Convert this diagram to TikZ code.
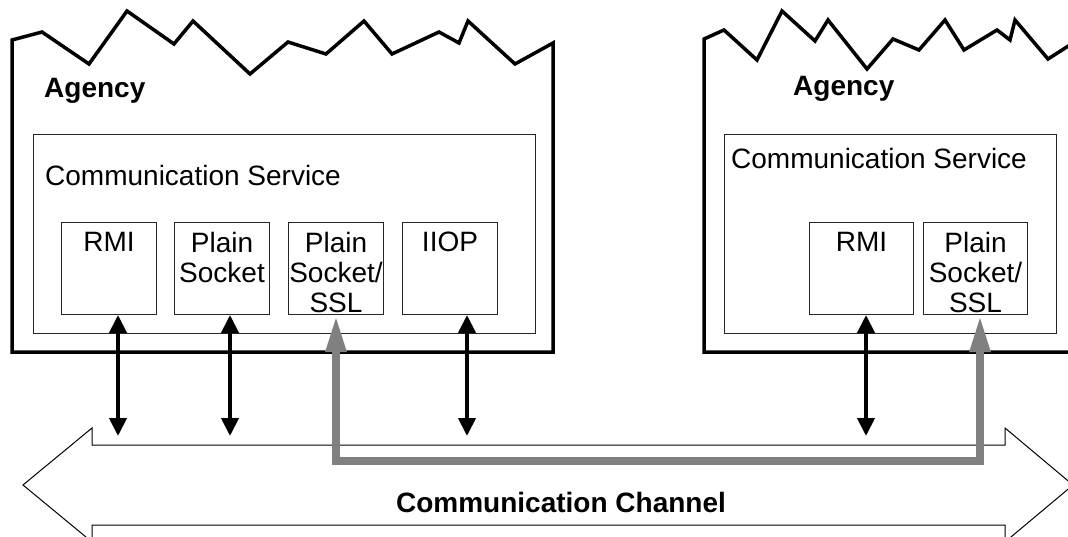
\documentclass[tikz,border=0pt]{standalone}
\usepackage{fontspec}
\setmainfont{Liberation Sans}
\usetikzlibrary{arrows.meta}
\definecolor{sslgray}{RGB}{128,128,128}

\begin{document}
\begin{tikzpicture}[x=1pt,y=-1pt,
  agency/.style={line width=3.5pt, line join=miter},
  svcbox/.style={draw=black!85, line width=1pt, anchor=north west, inner sep=0pt},
  protbox/.style={draw=black!85, line width=1pt, anchor=north west, inner sep=0pt, minimum width=95pt, minimum height=92pt},
  prottext/.style={anchor=north, align=center, inner xsep=0pt, inner ysep=10pt, font=\fontsize{28}{30}\selectfont},
  plain/.style={font=\fontsize{28}{30}\selectfont, inner sep=0pt},
  heading/.style={font=\fontsize{28}{30}\selectfont\bfseries, inner sep=0pt},
  duplex/.style={{Triangle[length=18pt,width=17pt]}-{Triangle[length=18pt,width=17pt]}, line width=4pt},
  secure/.style={{Triangle[length=37pt,width=19pt]}-{Triangle[length=37pt,width=19pt]}, line width=8pt, sslgray, line join=miter}]
\useasboundingbox (0,0) rectangle (1068,537);
\clip (0,0) rectangle (1068,537);

% left agency
\draw [agency] (12,352) -- (12,40) -- (42,32) -- (89,64) -- (127,11) -- (174,44) -- (193,21) -- (250,74) -- (288,42) -- (326,54) -- (364,21) -- (392,54) -- (439,32) -- (459,43) -- (468,21) -- (515,64) -- (553,43) -- (553,352) -- cycle;
\node [heading, anchor=base west] (lagency) at (44,98) {Agency};
\node [svcbox, minimum width=502pt, minimum height=199pt] (lsvc) at (33,134) {};
\node [plain, anchor=base west] (lsvctitle) at (45,186) {Communication Service};
\node [protbox] (lrmi) at (61,222) {};
\node [protbox] (lsock) at (174,222) {};
\node [protbox] (lssl) at (288,222) {};
\node [protbox] (liiop) at (402,222) {};
\node [prottext] (lrmitext) at (lrmi.north) {RMI};
\node [prottext] (lsocktext) at (lsock.north) {Plain\\Socket};
\node [prottext] (lssltext) at (lssl.north) {Plain\\Socket/\\SSL};
\node [prottext] (liioptext) at (liiop.north) {IIOP};

% right agency
\draw [agency] (704,352) -- (704,39) -- (724,30) -- (757,60) -- (782,11) -- (815,41) -- (828,20) -- (867,69) -- (893,39) -- (919,50) -- (945,20) -- (964,50) -- (997,30) -- (1010,40) -- (1015,20) -- (1048,59) -- (1073,43) -- (1073,352) -- cycle;
\node [heading, anchor=base west] (ragency) at (793,96) {Agency};
\node [svcbox, minimum width=332pt, minimum height=199pt] (rsvc) at (724,134) {};
\node [plain, anchor=base west] (rsvctitle) at (731,169) {Communication Service};
\node [protbox, minimum width=104pt] (rrmi) at (809,222) {};
\node [protbox, minimum width=104pt] (rssl) at (923,222) {};
\node [prottext] (rrmitext) at (rrmi.north) {RMI};
\node [prottext] (rssltext) at (rssl.north) {Plain\\Socket/\\SSL};

% channel
\draw [line width=1pt, fill=white] (23,485) -- (92,428) -- (92,445) -- (1005,445) -- (1005,428) -- (1073,485) -- (1005,542) -- (1005,525) -- (92,525) -- (92,542) -- cycle;
\node [heading] (chlabel) at (561,502) {Communication Channel};

\coordinate (c1) at (118,436);
\coordinate (c2) at (230,436);
\coordinate (c3) at (467,436);
\coordinate (c4) at (866,436);
\coordinate (g1) at (336,461);
\coordinate (g2) at (980,461);

\draw [duplex] (c1 |- lrmi.south) -- (c1);
\draw [duplex] (c2 |- lsock.south) -- (c2);
\draw [duplex] (c3 |- liiop.south) -- (c3);
\draw [duplex] (c4 |- rrmi.south) -- (c4);
\draw [secure] (lssl.south -| g1) -- (g1) -- (g2) -- (rssl.south -| g2);
\end{tikzpicture}
\end{document}
